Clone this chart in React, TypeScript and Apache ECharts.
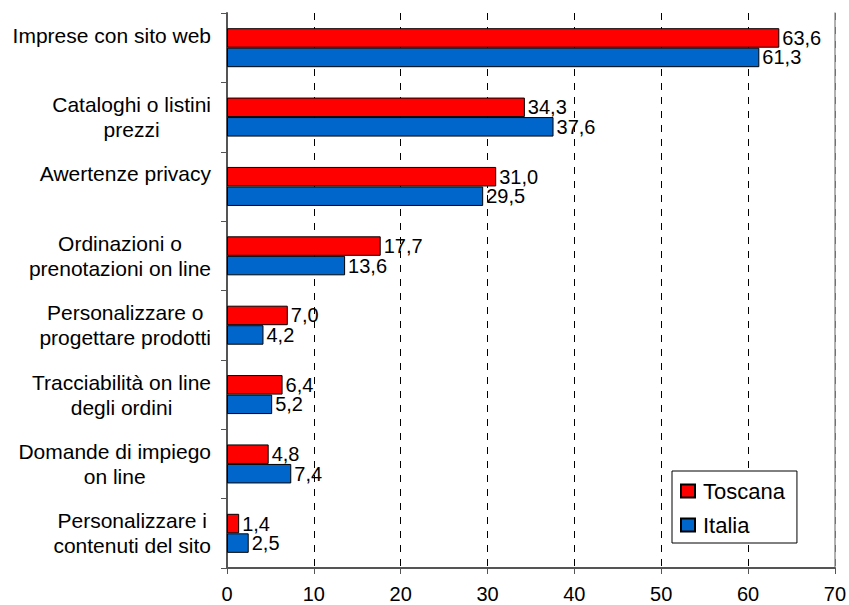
import React, { useEffect, useRef } from "react";
import * as echarts from "echarts";

const categories: string[] = [
  "Imprese con sito web",
  "Cataloghi o listini\nprezzi",
  "Awertenze privacy",
  "Ordinazioni o\nprenotazioni on line",
  "Personalizzare o\nprogettare prodotti",
  "Tracciabilità on line\ndegli ordini",
  "Domande di impiego\non line",
  "Personalizzare i\ncontenuti del sito",
];
const toscana: number[] = [63.6, 34.3, 31.0, 17.7, 7.0, 6.4, 4.8, 1.4];
const italia: number[] = [61.3, 37.6, 29.5, 13.6, 4.2, 5.2, 7.4, 2.5];
const seriesNames: string[] = ["Toscana", "Italia"];
const xTicks: number[] = [0, 10, 20, 30, 40, 50, 60, 70];

const FONT = "'Liberation Sans', Arial, Helvetica, sans-serif";

export default function App() {
  const ref = useRef<HTMLDivElement>(null);
  useEffect(() => {
    if (!ref.current) return;
    const chart = echarts.init(ref.current, null, { renderer: "svg" });
    const fmt = (v: number) => v.toFixed(1).replace(".", ",");
    const labelCfg = {
      show: true,
      position: "right",
      distance: 3,
      color: "#000",
      fontSize: 20,
      fontFamily: FONT,
      formatter: (p: any) => fmt(p.value),
    };
    chart.setOption({
      animation: false,
      backgroundColor: "#fff",
      textStyle: { fontFamily: FONT },
      grid: { left: 227, right: 12, top: 13, bottom: 37, containLabel: false },
      legend: {
        orient: "vertical",
        left: 672,
        top: 471,
        data: seriesNames,
        icon: "rect",
        itemWidth: 14,
        itemHeight: 13,
        itemGap: 12,
        padding: [9, 12, 7, 8],
        backgroundColor: "#fff",
        borderColor: "#000",
        borderWidth: 1,
        borderRadius: 0,
        textStyle: { fontSize: 22, color: "#000", fontFamily: FONT, padding: [0, 0, 0, 3] },
      },
      xAxis: {
        type: "value",
        min: xTicks[0],
        max: xTicks[xTicks.length - 1],
        interval: 10,
        axisLine: { show: true, lineStyle: { color: "#555", width: 2 } },
        axisTick: { show: true, length: 6, lineStyle: { color: "#555", width: 1 } },
        axisLabel: { fontSize: 20, color: "#000", margin: 16, fontFamily: FONT },
        splitLine: {
          show: true,
          lineStyle: { color: "#000", type: [7, 7], width: 1 },
        },
      },
      yAxis: [
        {
          type: "category",
          data: categories,
          inverse: true,
          axisLine: { show: true, lineStyle: { color: "#555", width: 2 } },
          axisTick: { show: true, length: 6, lineStyle: { color: "#555", width: 1 } },
          axisLabel: {
            margin: 16,
            fontFamily: FONT,
            formatter: (v: string) => {
              const lines = v.split("\n");
              if (lines.length === 1) return "{c|" + lines[0] + "}\n{c| }";
              return lines.map((l) => "{c|" + l + "}").join("\n");
            },
            rich: {
              c: {
                fontSize: 21,
                lineHeight: 25,
                color: "#000",
                align: "center",
                fontFamily: FONT,
              },
            },
          },
          splitLine: { show: false },
        },
        {
          type: "category",
          data: categories,
          inverse: true,
          position: "right",
          axisLine: { show: true, lineStyle: { color: "#999", width: 1.5 } },
          axisTick: { show: false },
          axisLabel: { show: false },
          splitLine: { show: false },
        },
      ],
      series: [
        {
          name: seriesNames[0],
          type: "bar",
          data: toscana,
          barWidth: 19.5,
          barGap: "0%",
          itemStyle: { color: "#FF0000", borderColor: "#000", borderWidth: 1 },
          label: labelCfg,
        },
        {
          name: seriesNames[1],
          type: "bar",
          data: italia,
          barWidth: 19.5,
          barGap: "0%",
          itemStyle: { color: "#0066CC", borderColor: "#000", borderWidth: 1 },
          label: labelCfg,
        },
      ],
    });
    return () => chart.dispose();
  }, []);
  return (
    <div
      ref={ref}
      style={{ position: "fixed", left: 0, top: 0, width: 849, height: 605 }}
    />
  );
}
